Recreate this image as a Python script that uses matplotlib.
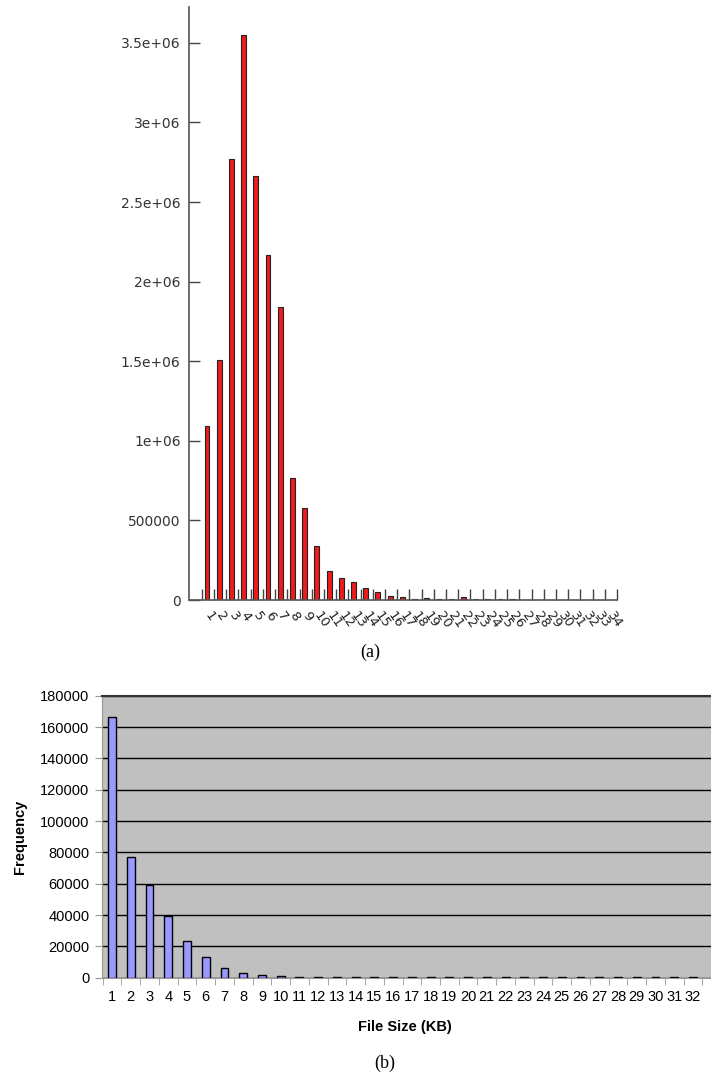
import matplotlib
matplotlib.use("Agg")
import matplotlib.pyplot as plt
import numpy as np

### data
# (a) top chart: counts per size bucket
top_labels = [str(i) for i in range(1, 35)]
top_counts = [1090000, 1505000, 2770000, 3550000, 2665000, 2170000, 1840000,
              765000, 577000, 339000, 185000, 138000, 110000, 77000, 50000,
              23000, 17000, 8000, 12000, 8000, 6000, 17000, 8000, 8000, 8000,
              8000, 0, 0, 0, 0, 0, 0, 0, 0]

# (b) bottom chart: frequency per file size (KB)
bottom_labels = [str(i) for i in range(1, 33)]
bottom_freq = [166500, 77200, 58900, 39400, 23200, 13400, 6200, 3200, 1900,
               1300, 600, 500, 400, 350, 300, 300, 300, 300, 300, 300, 300,
               300, 300, 300, 300, 300, 300, 300, 300, 300, 300, 300]

fig = plt.figure(figsize=(7.11, 10.77), dpi=100)

### (a)
ax1 = fig.add_axes([189/711, 1 - 600/1077, (617 - 189)/711, 593/1077])
x1 = np.arange(1, len(top_counts) + 1)
ax1.bar(x1, top_counts, width=0.4, color='#ee1c1c', edgecolor='#222222', linewidth=0.8)
ax1.set_xlim(-0.47, 34.58)
ax1.set_ylim(0, 3.725e6)

ax1.set_yticks([0, 5e5, 1e6, 1.5e6, 2e6, 2.5e6, 3e6, 3.5e6])
ax1.set_yticklabels(['0', '500000', '1e+06', '1.5e+06', '2e+06', '2.5e+06', '3e+06', '3.5e+06'])
ax1.tick_params(axis='y', direction='in', length=8, width=1, color='#444444',
                labelsize=10, labelcolor='#333333', pad=6)

ax1.set_xticks(x1)
ax1.set_xticklabels(top_labels, rotation=-55, ha='left', va='center',
                    rotation_mode='anchor', fontsize=9.5, color='#222222')
ax1.tick_params(axis='x', which='major', length=0, pad=9)
ax1.set_xticks(np.arange(1, 36) - 0.42, minor=True)
ax1.tick_params(axis='x', which='minor', direction='in', length=8, width=1, color='#444444')

for s in ['top', 'right']:
    ax1.spines[s].set_visible(False)
for s in ['left', 'bottom']:
    ax1.spines[s].set_color('#555555')
    ax1.spines[s].set_linewidth(1.2)

fig.text(370/711, 1 - 652/1077, '(a)', family='Liberation Serif', fontsize=13,
         ha='center', va='center')

### (b)
ax2 = fig.add_axes([102/711, 1 - 977.7/1077, (711 - 102)/711, 282/1077])
x2 = np.arange(1, len(bottom_freq) + 1)
ax2.set_facecolor('#c0c0c0')
ax2.set_axisbelow(True)
ax2.yaxis.grid(True, color='black', linewidth=1)
ax2.bar(x2, bottom_freq, width=0.42, color='#9999ff', edgecolor='black', linewidth=1)
ax2.set_xlim(0.466, 32.96)
ax2.set_ylim(0, 180000)

ax2.set_yticks(np.arange(0, 180001, 20000))
ax2.tick_params(axis='y', direction='out', length=5, color='#999999',
                labelsize=10.5, pad=4)
ax2.set_xticks(x2)
ax2.set_xticklabels(bottom_labels)
ax2.tick_params(axis='x', which='major', length=0, labelsize=10.5, pad=9)
ax2.set_xticks(np.arange(0.5, 33.5, 1), minor=True)
ax2.tick_params(axis='x', which='minor', direction='out', length=5, color='#999999')
for lab in ax2.get_xticklabels() + ax2.get_yticklabels():
    lab.set_family('Liberation Sans')

ax2.spines['top'].set_color('#333333')
ax2.spines['top'].set_linewidth(1.5)
ax2.spines['right'].set_visible(False)
ax2.spines['left'].set_color('#999999')
ax2.spines['bottom'].set_color('#999999')

ax2.set_ylabel('Frequency', family='Liberation Sans', fontsize=10.5, fontweight='bold')
ax2.yaxis.set_label_coords(-0.123, 0.5)
ax2.set_xlabel('File Size (KB)', family='Liberation Sans', fontsize=10.5, fontweight='bold')
ax2.xaxis.set_label_coords((405 - 102)/609, -0.15)

fig.text(385/711, 1 - 1063/1077, '(b)', family='Liberation Serif', fontsize=13,
         ha='center', va='center')

fig.savefig("out.png", dpi=100)
